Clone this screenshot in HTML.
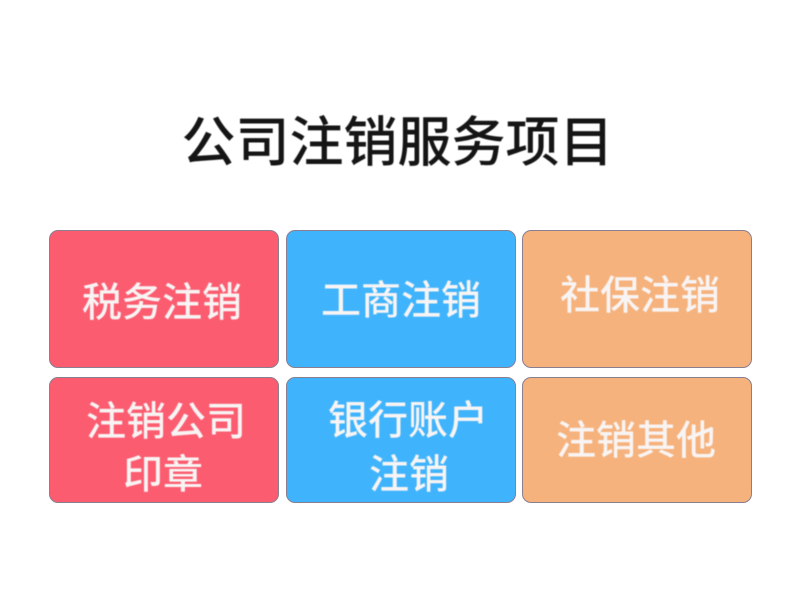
<!DOCTYPE html>
<html><head><meta charset="utf-8">
<style>
html,body{margin:0;padding:0;background:#fff}
body{width:800px;height:599px;position:relative;overflow:hidden;font-family:"Liberation Sans","Noto Sans CJK SC",sans-serif}
.b{position:absolute;box-sizing:border-box;border:1px solid #8a7f90;border-radius:9px;filter:blur(.3px)}
.t{position:absolute;white-space:nowrap;color:#f8f4f4;font-size:40px;line-height:40px;font-weight:500;transform:translateX(-50%);filter:blur(.4px)}
.r{background:#fc5c70}.u{background:#3fb4fd}.o{background:#f6b27c}
</style></head><body>
<div class="t" style="left:397.5px;top:115px;color:#151515;font-size:54px;line-height:56px;font-weight:500">公司注销服务项目</div>
<div class="b r" style="left:49px;top:230px;width:230px;height:138px"></div>
<div class="b u" style="left:286px;top:230px;width:230px;height:138px"></div>
<div class="b o" style="left:522px;top:230px;width:230px;height:138px"></div>
<div class="b r" style="left:49px;top:377px;width:230px;height:126px"></div>
<div class="b u" style="left:286px;top:377px;width:230px;height:126px"></div>
<div class="b o" style="left:522px;top:377px;width:230px;height:126px"></div>
<div class="t" style="left:162px;top:283px">税务注销</div>
<div class="t" style="left:401px;top:281px">工商注销</div>
<div class="t" style="left:640px;top:276px">社保注销</div>
<div class="t" style="left:166px;top:402px">注销公司</div>
<div class="t" style="left:163px;top:455px">印章</div>
<div class="t" style="left:408px;top:401px">银行账户</div>
<div class="t" style="left:409px;top:455px">注销</div>
<div class="t" style="left:636px;top:421px">注销其他</div>
</body></html>
